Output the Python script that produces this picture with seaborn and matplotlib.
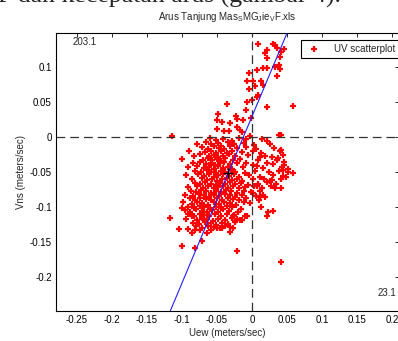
"""
UV scatterplot of current velocity, Tanjung Mas
"""

from matplotlib import pyplot as plt
from matplotlib.ticker import FuncFormatter
import seaborn as sns

# scattered points above the main cloud (u, v) in m/s
upper = [
    (0.009, 0.132), (0.030, 0.133), (0.033, 0.131), (0.035, 0.126), (0.022, 0.124),
    (0.019, 0.120), (0.042, 0.121), (0.022, 0.113), (0.040, 0.114), (0.046, 0.125),
    (0.007, 0.095), (0.015, 0.098), (0.022, 0.098), (0.033, 0.100), (0.038, 0.102),
    (0.040, 0.097), (-0.004, 0.091), (0.035, 0.086), (-0.007, 0.080), (0.002, 0.079),
    (0.013, 0.080), (0.015, 0.074), (0.004, 0.073), (-0.005, 0.068), (0.008, 0.060),
    (0.007, 0.057), (0.000, 0.052), (-0.007, 0.050), (-0.036, 0.046), (0.059, 0.044),
    (0.021, 0.043), (-0.048, 0.033), (-0.023, 0.030), (-0.050, 0.024), (-0.043, 0.021),
    (-0.031, 0.020), (-0.021, 0.025), (-0.013, 0.024), (-0.008, 0.038), (-0.001, 0.026),
    (-0.050, 0.011), (-0.040, 0.008), (-0.033, 0.008), (-0.022, 0.014), (-0.017, 0.010),
    (-0.015, 0.006), (-0.115, 0.001), (0.038, 0.003), (0.042, 0.002), (-0.003, 0.001),
]

# dense cloud
core = [
    (-0.060, -0.002), (-0.052, -0.005), (-0.041, -0.003), (-0.028, -0.006), (-0.019, -0.002),
    (-0.008, -0.004), (0.014, -0.003), (0.021, -0.006),
    (-0.078, -0.010), (-0.066, -0.008), (-0.058, -0.011), (-0.049, -0.009), (-0.044, -0.013),
    (-0.035, -0.008), (-0.026, -0.011), (-0.012, -0.009), (0.003, -0.012), (0.025, -0.010),
    (-0.071, -0.015), (-0.063, -0.017), (-0.055, -0.014), (-0.047, -0.016), (-0.040, -0.018),
    (-0.031, -0.014), (-0.021, -0.016), (-0.009, -0.015), (0.006, -0.017), (0.032, -0.016),
    (-0.090, -0.021), (-0.067, -0.022), (-0.059, -0.020), (-0.052, -0.023), (-0.044, -0.021),
    (-0.036, -0.024), (-0.029, -0.020), (-0.015, -0.022), (0.001, -0.021), (0.013, -0.024),
    (0.040, -0.021),
    (-0.083, -0.027), (-0.075, -0.025), (-0.061, -0.028), (-0.054, -0.026), (-0.048, -0.029),
    (-0.041, -0.027), (-0.033, -0.025), (-0.024, -0.028), (-0.006, -0.026), (0.018, -0.027),
    (0.028, -0.029), (0.044, -0.026),
    (-0.100, -0.032), (-0.070, -0.033), (-0.063, -0.031), (-0.057, -0.034), (-0.050, -0.032),
    (-0.045, -0.035), (-0.038, -0.031), (-0.027, -0.033), (-0.017, -0.032), (0.009, -0.034),
    (0.036, -0.033), (0.045, -0.036),
    (-0.085, -0.038), (-0.074, -0.036), (-0.066, -0.039), (-0.059, -0.037), (-0.053, -0.040),
    (-0.046, -0.038), (-0.040, -0.036), (-0.031, -0.039), (-0.022, -0.037), (-0.008, -0.038),
    (0.002, -0.040), (0.021, -0.037), (0.030, -0.039), (0.046, -0.041),
    (-0.091, -0.044), (-0.079, -0.042), (-0.069, -0.045), (-0.061, -0.043), (-0.055, -0.046),
    (-0.049, -0.042), (-0.042, -0.045), (-0.035, -0.043), (-0.028, -0.046), (-0.013, -0.044),
    (0.007, -0.042), (0.015, -0.045), (0.043, -0.044), (0.052, -0.046),
    (-0.082, -0.049), (-0.073, -0.051), (-0.065, -0.048), (-0.058, -0.050), (-0.051, -0.052),
    (-0.044, -0.049), (-0.038, -0.051), (-0.030, -0.048), (-0.024, -0.050), (-0.010, -0.052),
    (0.004, -0.049), (0.024, -0.051), (0.038, -0.049), (0.058, -0.052),
    (-0.095, -0.055), (-0.077, -0.054), (-0.068, -0.056), (-0.062, -0.053), (-0.055, -0.057),
    (-0.048, -0.055), (-0.041, -0.053), (-0.033, -0.056), (-0.026, -0.054), (-0.018, -0.057),
    (-0.004, -0.055), (0.011, -0.057), (0.030, -0.055), (0.049, -0.058),
    (-0.086, -0.061), (-0.072, -0.059), (-0.064, -0.062), (-0.057, -0.060), (-0.050, -0.063),
    (-0.043, -0.061), (-0.036, -0.059), (-0.029, -0.062), (-0.021, -0.060), (-0.014, -0.063),
    (0.001, -0.061), (0.017, -0.060), (0.026, -0.063), (0.041, -0.061),
    (-0.081, -0.066), (-0.075, -0.068), (-0.067, -0.065), (-0.059, -0.067), (-0.052, -0.069),
    (-0.046, -0.066), (-0.038, -0.068), (-0.032, -0.065), (-0.025, -0.068), (-0.016, -0.066),
    (-0.006, -0.069), (0.008, -0.067), (0.021, -0.065), (0.034, -0.068),
    (-0.092, -0.072), (-0.078, -0.070), (-0.070, -0.073), (-0.063, -0.071), (-0.055, -0.074),
    (-0.048, -0.072), (-0.041, -0.070), (-0.034, -0.073), (-0.027, -0.071), (-0.019, -0.074),
    (-0.010, -0.072), (0.003, -0.070), (0.014, -0.073), (0.027, -0.071),
    (-0.087, -0.077), (-0.080, -0.079), (-0.073, -0.076), (-0.066, -0.078), (-0.059, -0.080),
    (-0.051, -0.077), (-0.044, -0.079), (-0.037, -0.076), (-0.030, -0.078), (-0.022, -0.080),
    (-0.012, -0.077), (-0.001, -0.079), (0.012, -0.077),
    (-0.096, -0.083), (-0.084, -0.085), (-0.076, -0.082), (-0.069, -0.084), (-0.062, -0.086),
    (-0.054, -0.083), (-0.047, -0.085), (-0.039, -0.082), (-0.031, -0.084), (-0.024, -0.086),
    (-0.015, -0.083), (0.006, -0.085), (0.016, -0.083),
    (-0.089, -0.088), (-0.081, -0.090), (-0.074, -0.087), (-0.066, -0.089), (-0.058, -0.091),
    (-0.050, -0.088), (-0.043, -0.090), (-0.035, -0.087), (-0.027, -0.089), (-0.019, -0.091),
    (-0.008, -0.088), (0.010, -0.090),
    (-0.098, -0.094), (-0.086, -0.096), (-0.078, -0.093), (-0.071, -0.095), (-0.063, -0.097),
    (-0.055, -0.094), (-0.047, -0.096), (-0.040, -0.093), (-0.032, -0.095), (-0.023, -0.097),
    (-0.011, -0.094),
    (-0.092, -0.100), (-0.083, -0.102), (-0.075, -0.099), (-0.068, -0.101), (-0.060, -0.103),
    (-0.052, -0.100), (-0.045, -0.102), (-0.036, -0.099), (-0.028, -0.101), (-0.016, -0.103),
    (0.013, -0.100),
    (-0.096, -0.105), (-0.088, -0.107), (-0.080, -0.104), (-0.072, -0.106), (-0.064, -0.108),
    (-0.057, -0.105), (-0.049, -0.107), (-0.041, -0.104), (-0.033, -0.106), (-0.020, -0.108),
    (0.030, -0.106),
    (-0.091, -0.111), (-0.083, -0.113), (-0.075, -0.110), (-0.068, -0.112), (-0.061, -0.114),
    (-0.053, -0.111), (-0.045, -0.113), (-0.036, -0.110), (-0.026, -0.112), (-0.010, -0.114),
    (-0.094, -0.117), (-0.079, -0.119), (-0.071, -0.116), (-0.064, -0.118), (-0.056, -0.120),
    (-0.048, -0.117), (-0.039, -0.119), (-0.029, -0.116), (-0.021, -0.118),
    (-0.084, -0.123), (-0.076, -0.125), (-0.067, -0.122), (-0.059, -0.124), (-0.052, -0.126),
    (-0.043, -0.123), (-0.035, -0.125), (-0.025, -0.122),
    (-0.080, -0.128), (-0.072, -0.130), (-0.063, -0.127), (-0.055, -0.129), (-0.046, -0.131),
    (-0.038, -0.128), (-0.027, -0.130),
]

# arc of points east of the cloud
east = [
    (0.011, -0.029), (0.037, -0.030), (0.044, -0.048), (0.028, -0.062), (0.007, -0.071),
    (0.042, -0.019), (0.051, -0.050), (0.044, -0.056), (0.023, -0.107), (0.019, -0.086),
    (0.033, -0.074), (0.042, -0.074), (0.011, -0.086), (0.002, -0.081), (-0.003, -0.095),
    (0.041, -0.179), (-0.022, -0.164), (0.021, -0.114),
]

# tail below the cloud
lower = [
    (-0.117, -0.116), (-0.086, -0.114), (-0.070, -0.117), (-0.104, -0.132), (-0.091, -0.132),
    (-0.081, -0.133), (-0.074, -0.134), (-0.086, -0.138), (-0.065, -0.138), (-0.058, -0.133),
    (-0.050, -0.131), (-0.043, -0.130), (-0.031, -0.129), (-0.032, -0.136), (-0.072, -0.149),
    (-0.100, -0.156), (-0.081, -0.159), (-0.017, -0.119), (-0.024, -0.121), (-0.007, -0.114),
    (-0.100, -0.102), (-0.015, -0.119), (-0.027, -0.114),
]

points = upper + core + east + lower
uew = [p[0] for p in points]
vns = [p[1] for p in points]

MEAN_U, MEAN_V = -0.034, -0.052
FIT_SLOPE = 2.38
XTICKS = [-0.25, -0.2, -0.15, -0.1, -0.05, 0, 0.05, 0.1, 0.15, 0.2]
YTICKS = [-0.2, -0.15, -0.1, -0.05, 0, 0.05, 0.1]

sns.set_style("white")
plt.rcParams["font.family"] = ["Liberation Sans", "DejaVu Sans"]
plt.rcParams["mathtext.fontset"] = "custom"
plt.rcParams["mathtext.rm"] = "Liberation Sans"

W, H = 398, 341
fig = plt.figure(figsize=(W / 100, H / 100), dpi=100)
ax = fig.add_axes([56 / W, 30 / H, 343 / W, 278 / H])

sns.scatterplot(
    x=uew, y=vns, ax=ax, marker="+", color="red", s=14, linewidth=1.6,
    label="UV scatterplot", zorder=2,
)
ax.axhline(0, color="#333333", lw=0.9, dashes=(7, 4), zorder=3)
ax.axvline(0, color="#333333", lw=0.9, dashes=(7, 4), zorder=3)
ax.axline((MEAN_U, MEAN_V), slope=FIT_SLOPE, color="#2020ff", lw=0.8, zorder=3)
ax.plot([MEAN_U], [MEAN_V], marker="+", color="black", ms=7, mew=1.0, zorder=4)

ax.set_xlim(-0.28, 0.21)
ax.set_ylim(-0.249, 0.148)
ax.set_xticks(XTICKS)
ax.set_yticks(YTICKS)
fmt = FuncFormatter(lambda x, _: f"{round(x, 2) + 0.0:g}")
ax.xaxis.set_major_formatter(fmt)
ax.yaxis.set_major_formatter(fmt)
ax.tick_params(direction="in", top=True, right=True, length=3, width=0.6,
               labelsize=7, colors="black", pad=3)
for sp in ax.spines.values():
    sp.set_color("black")
    sp.set_linewidth(0.8)

ax.set_xlabel("Uew (meters/sec)", fontsize=7, labelpad=2)
ax.set_ylabel("Vns (meters/sec)", fontsize=7, labelpad=3)
ax.set_title(r"Arus Tanjung Mas$_\mathregular{S}$MG$_\mathregular{J}$ie$_\mathregular{V}$F.xls",
             fontsize=7, pad=9)

ax.text(-0.257, 0.135, "203.1", fontsize=7, va="center")
ax.text(0.179, -0.224, "23.1", fontsize=7, va="center")

leg = ax.legend(loc="upper right", bbox_to_anchor=(1.0, 1 - 7 / 278), fontsize=7,
                fancybox=False, edgecolor="black", framealpha=1,
                borderaxespad=0, handletextpad=1.0, borderpad=0.4)
leg.get_frame().set_linewidth(0.8)

# line of the surrounding document, cut off at the top edge as in the source
fig.text(-0.005, 1 - 3 / H, "P dan kecepatan arus (gambar 4).",
         family="Liberation Serif", fontsize=18.5, va="baseline")

fig.savefig("out.png", dpi=100)
